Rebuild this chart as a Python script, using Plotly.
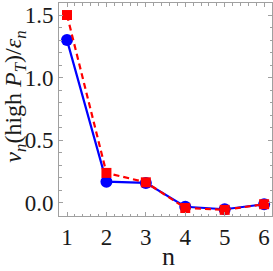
import plotly.graph_objects as go

n = [1, 2, 3, 4, 5, 6]
blue_vals = [1.30, 0.17, 0.16, -0.03, -0.05, -0.01]
red_vals = [1.50, 0.24, 0.165, -0.04, -0.055, -0.01]
x_ticks = [1, 2, 3, 4, 5, 6]
y_ticks = [0.0, 0.5, 1.0, 1.5]
y_tick_labels = ["0.0", "0.5", "1.0", "1.5"]

font_family = "Liberation Serif, Times New Roman, serif"
frame = "#a0a0a0"
txt = "#1a1a1a"

fig = go.Figure()
fig.add_trace(go.Scatter(
    x=n, y=blue_vals, mode="lines+markers",
    line=dict(color="#0000ff", width=2.2),
    marker=dict(symbol="circle", size=12, color="#0000ff"),
))
fig.add_trace(go.Scatter(
    x=n, y=red_vals, mode="lines+markers",
    line=dict(color="#ff0000", width=2.2, dash="6px,4px"),
    marker=dict(symbol="square", size=10, color="#ff0000"),
))

axis_common = dict(
    showgrid=False, zeroline=False, showline=True, linecolor=frame, linewidth=1,
    mirror="ticks", ticks="inside", tickcolor=frame, ticklen=4, tickwidth=1,
    tickfont=dict(family=font_family, size=23, color=txt),
    automargin=False,
)

fig.update_layout(
    width=273, height=271,
    margin=dict(l=59, r=1, t=3, b=55),
    paper_bgcolor="white", plot_bgcolor="white",
    showlegend=False,
    xaxis=dict(range=[0.797, 6.2], tickvals=x_ticks,
               minor=dict(dtick=0.2, ticks="inside", ticklen=2.5, tickcolor=frame, tick0=0),
               **axis_common),
    yaxis=dict(range=[-0.104, 1.596], tickvals=y_ticks, ticktext=y_tick_labels,
               minor=dict(dtick=0.1, ticks="inside", ticklen=2.5, tickcolor=frame, tick0=0),
               **axis_common),
    annotations=[
        dict(
            text="<i>v</i><sub><i>n</i></sub>(high <i>P</i><sub><i>T</i></sub>)/<i>ε</i><sub><i>n</i></sub>",
            xref="paper", yref="paper", x=-0.207, y=0.56, xanchor="center", yanchor="middle",
            textangle=-90, showarrow=False,
            font=dict(family=font_family, size=24, color=txt),
        ),
        dict(
            text="n", xref="paper", yref="paper", x=0.516, y=-0.19,
            xanchor="center", yanchor="middle", showarrow=False,
            font=dict(family=font_family, size=26, color=txt),
        ),
    ],
)

fig.write_html("out.html", config={"displayModeBar": False},
               post_script="document.body.style.margin='0';document.body.style.padding='0';")
